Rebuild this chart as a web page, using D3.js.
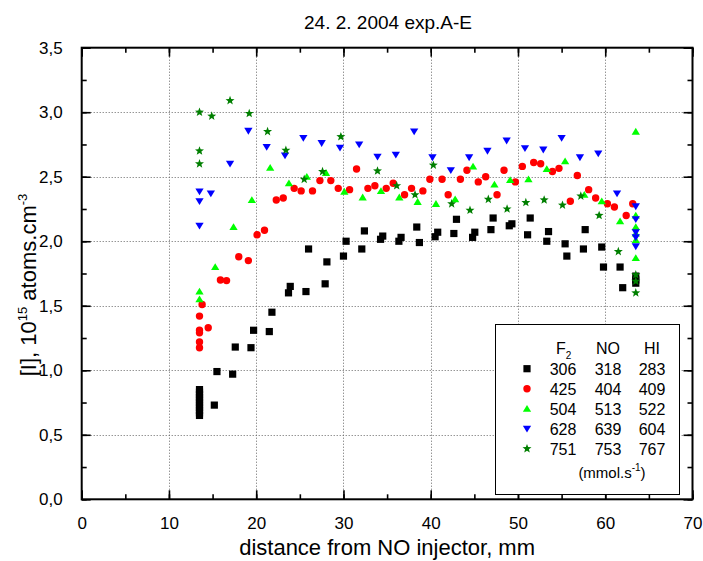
<!DOCTYPE html>
<html>
<head>
<meta charset="utf-8">
<script src="https://cdn.jsdelivr.net/npm/d3@7"></script>
<style>
  html, body { margin: 0; padding: 0; background: #fff; }
  svg text { font-family: "Liberation Sans", Arial, sans-serif; fill: #000; }
</style>
</head>
<body>
<svg id="chart" width="703" height="561"></svg>
<script>
// Iodine concentration along the reactor, five runs A-E (flows in mmol/s)
const xTicks = [0, 10, 20, 30, 40, 50, 60, 70];
const yTicks = [0, 0.5, 1.0, 1.5, 2.0, 2.5, 3.0, 3.5];

const runA = [ // F2 306, NO 318, HI 283
  [13.5,0.65],[13.5,0.67],[13.5,0.69],[13.5,0.71],[13.5,0.73],[13.5,0.75],[13.5,0.77],[13.5,0.79],[13.5,0.81],[13.5,0.83],[13.5,0.85],
  [15.2,0.73],[15.5,0.99],[17.3,0.97],[17.6,1.18],[19.4,1.175],[19.7,1.31],[21.5,1.30],[21.8,1.45],
  [23.7,1.60],[23.9,1.65],[25.7,1.61],[26.0,1.94],[27.9,1.67],[28.1,1.84],[30.0,1.885],[30.3,2.00],
  [32.1,1.94],[32.4,2.08],[34.25,2.015],[34.5,2.04],[36.35,2.00],[36.6,2.03],[38.4,2.11],[38.7,1.99],
  [40.5,2.035],[40.8,2.07],[42.65,2.06],[42.95,2.17],[44.8,2.03],[45.05,2.07],[46.9,2.09],[47.15,2.18],
  [49.0,2.12],[49.3,2.135],[51.1,2.05],[51.4,2.18],[53.3,2.00],[53.5,2.075],[55.4,1.98],[55.6,1.885],
  [57.5,1.94],[57.7,2.09],[59.6,1.955],[59.8,1.80],[61.7,1.80],[62.0,1.64],[63.5,1.675],[63.5,1.70],[63.5,1.73]
];
const runB = [ // F2 425, NO 404, HI 409
  [13.5,1.175],[13.5,1.22],[13.5,1.29],[13.5,1.31],[13.5,1.42],[13.8,1.51],[14.5,1.33],[15.9,1.70],[16.6,1.695],
  [18.0,1.88],[19.1,1.85],[20.1,2.05],[20.95,2.085],[22.3,2.32],[23.1,2.335],[24.35,2.41],[25.15,2.39],
  [26.45,2.39],[27.3,2.47],[28.55,2.47],[29.4,2.41],[30.7,2.40],[31.5,2.56],[32.8,2.41],[33.6,2.43],
  [34.9,2.41],[35.7,2.45],[37.0,2.36],[37.8,2.41],[39.1,2.39],[39.9,2.48],[41.3,2.48],[42.0,2.36],
  [43.4,2.48],[44.15,2.55],[45.45,2.46],[46.3,2.50],[47.6,2.36],[48.4,2.55],[49.7,2.46],[50.5,2.58],
  [51.8,2.61],[52.6,2.60],[53.95,2.54],[54.7,2.565],[56.0,2.31],[56.8,2.51],[58.1,2.40],[58.9,2.335],
  [60.25,2.29],[61.05,2.265],[62.4,2.20],[63.15,2.29]
];
const runC = [ // F2 504, NO 513, HI 522
  [13.5,1.61],[13.5,1.55],[15.3,1.80],[17.4,2.11],[19.5,2.32],[21.6,2.57],[23.75,2.45],[25.8,2.50],
  [28.0,2.53],[30.1,2.385],[32.2,2.34],[34.3,2.39],[36.4,2.34],[38.5,2.305],[40.6,2.29],[42.8,2.325],
  [44.85,2.58],[47.3,2.44],[49.1,2.475],[51.2,2.48],[53.3,2.56],[55.4,2.62],[57.6,2.36],[59.6,2.31],
  [61.7,2.155],[63.5,2.85],[63.5,2.20],[63.5,2.11],[63.5,2.06],[63.5,2.01],[63.5,1.87]
];
const runD = [ // F2 628, NO 639, HI 604
  [13.5,2.385],[13.5,2.31],[13.5,2.12],[14.8,2.37],[17.0,2.60],[19.1,2.855],[21.2,2.73],[23.3,2.665],
  [25.4,2.80],[27.5,2.76],[29.6,2.725],[31.8,2.75],[33.9,2.655],[36.0,2.67],[38.1,2.85],[40.2,2.65],
  [42.3,2.55],[44.4,2.65],[46.5,2.70],[48.7,2.78],[50.8,2.72],[52.9,2.71],[55.0,2.80],[57.1,2.65],
  [59.2,2.68],[61.35,2.37],[63.5,2.27],[63.5,2.17],[63.5,2.07],[63.5,2.03],[63.5,1.96]
];
const runE = [ // F2 751, NO 753, HI 767
  [13.5,3.00],[13.5,2.70],[13.5,2.60],[14.9,2.97],[17.0,3.09],[19.2,2.99],[21.3,2.85],[23.4,2.705],
  [25.5,2.48],[27.6,2.54],[29.7,2.81],[33.9,2.545],[36.1,2.43],[38.2,2.36],[40.3,2.59],[42.4,2.29],
  [44.5,2.24],[46.6,2.325],[48.75,2.25],[50.9,2.30],[53.0,2.32],[55.1,2.28],[57.2,2.35],[59.3,2.20],
  [61.5,1.92],[63.5,1.74],[63.5,1.69],[63.5,1.60]
];

const legendF2 = ["306", "425", "504", "628", "751"];
const legendNO = ["318", "404", "513", "639", "753"];
const legendHI = ["283", "409", "522", "604", "767"];

const W = 703, H = 561;
const plot = { left: 81.7, right: 692.5, top: 47.7, bottom: 499.3 };

const svg = d3.select("#chart");
const x = d3.scaleLinear().domain([0, 70]).range([plot.left, plot.right]);
const y = d3.scaleLinear().domain([0, 3.5]).range([plot.bottom, plot.top]);

// marker path generators
const shapes = {
  square: s => `M${-s},${-s}H${s}V${s}H${-s}Z`,
  circle: s => `M${-s},0A${s},${s} 0 1,0 ${s},0A${s},${s} 0 1,0 ${-s},0Z`,
  up: s => `M0,${-s*1.05}L${s*1.15},${s*0.85}L${-s*1.15},${s*0.85}Z`,
  down: s => `M0,${s*1.05}L${s*1.15},${-s*0.85}L${-s*1.15},${-s*0.85}Z`,
  star: s => {
    const R = s * 1.35, r = R * 0.42;
    let p = "";
    for (let i = 0; i < 10; i++) {
      const a = -Math.PI / 2 + i * Math.PI / 5;
      const rr = i % 2 ? r : R;
      p += (i ? "L" : "M") + (rr * Math.cos(a)).toFixed(2) + "," + (rr * Math.sin(a)).toFixed(2);
    }
    return p + "Z";
  }
};

const series = [
  { data: runA, shape: "square", size: 3.6, color: "#000000" },
  { data: runB, shape: "circle", size: 3.7, color: "#ff0000" },
  { data: runC, shape: "up", size: 3.6, color: "#00ff00" },
  { data: runD, shape: "down", size: 3.6, color: "#0000ff" },
  { data: runE, shape: "star", size: 3.5, color: "#007f00" }
];

// dotted grid at major ticks
const grid = svg.append("g").attr("stroke", "#666").attr("stroke-width", 1).attr("stroke-dasharray", "1,2");
grid.selectAll("line.gx").data(xTicks.filter(v => v > 0 && v < 70)).join("line")
  .attr("x1", d => Math.round(x(d)) + 0.5).attr("x2", d => Math.round(x(d)) + 0.5)
  .attr("y1", plot.top).attr("y2", plot.bottom);
grid.selectAll("line.gy").data(yTicks.filter(v => v > 0 && v < 3.5)).join("line")
  .attr("y1", d => Math.round(y(d)) + 0.5).attr("y2", d => Math.round(y(d)) + 0.5)
  .attr("x1", plot.left).attr("x2", plot.right);

// data markers
series.forEach(s => {
  svg.append("g").selectAll("path").data(s.data).join("path")
    .attr("d", shapes[s.shape](s.size))
    .attr("transform", d => `translate(${x(d[0])},${y(d[1])})`)
    .attr("fill", s.color);
});

// axes with inward ticks on all four sides
const fmtY = d => d3.format(".1f")(d).replace(".", ",");
const xMinor = d3.range(0, 70.01, 5);
const yMinor = d3.range(0, 3.501, 0.25);

function styleAxis(g) {
  g.selectAll(".domain").remove();
  g.selectAll(".tick line").attr("stroke", "#000").attr("stroke-width", 1.6);
  g.selectAll(".tick text").attr("font-size", 17).attr("fill", "#000")
    .style("font-family", "'Liberation Sans', Arial, sans-serif");
}

svg.append("g").attr("transform", `translate(0,${plot.bottom})`)
  .call(d3.axisBottom(x).tickValues(xMinor).tickSize(-5).tickFormat(""))
  .call(styleAxis);
svg.append("g").attr("transform", `translate(0,${plot.bottom})`)
  .call(d3.axisBottom(x).tickValues(xTicks).tickSize(-9).tickPadding(18).tickFormat(d3.format("d")))
  .call(styleAxis);
svg.append("g").attr("transform", `translate(0,${plot.top})`)
  .call(d3.axisTop(x).tickValues(xMinor).tickSize(-5).tickFormat(""))
  .call(styleAxis);
svg.append("g").attr("transform", `translate(0,${plot.top})`)
  .call(d3.axisTop(x).tickValues(xTicks).tickSize(-9).tickFormat(""))
  .call(styleAxis);
svg.append("g").attr("transform", `translate(${plot.left},0)`)
  .call(d3.axisLeft(y).tickValues(yMinor).tickSize(-5).tickFormat(""))
  .call(styleAxis);
svg.append("g").attr("transform", `translate(${plot.left},0)`)
  .call(d3.axisLeft(y).tickValues(yTicks).tickSize(-9).tickPadding(19).tickFormat(fmtY))
  .call(styleAxis);
svg.append("g").attr("transform", `translate(${plot.right},0)`)
  .call(d3.axisRight(y).tickValues(yMinor).tickSize(-5).tickFormat(""))
  .call(styleAxis);
svg.append("g").attr("transform", `translate(${plot.right},0)`)
  .call(d3.axisRight(y).tickValues(yTicks).tickSize(-9).tickFormat(""))
  .call(styleAxis);

// frame
svg.append("rect")
  .attr("x", plot.left).attr("y", plot.top)
  .attr("width", plot.right - plot.left).attr("height", plot.bottom - plot.top)
  .attr("fill", "none").attr("stroke", "#000").attr("stroke-width", 2);

// titles
svg.append("text").attr("x", 388).attr("y", 29).attr("text-anchor", "middle")
  .attr("font-size", 19).text("24. 2. 2004 exp.A-E");

svg.append("text").attr("x", (plot.left + plot.right) / 2).attr("y", 555).attr("text-anchor", "middle")
  .attr("font-size", 22).text("distance from NO injector, mm");

const yt = svg.append("text").attr("transform", "translate(36,285) rotate(-90)")
  .attr("text-anchor", "middle").attr("font-size", 22);
yt.append("tspan").text("[I], 10");
yt.append("tspan").attr("font-size", 13).attr("dy", -9).text("15");
yt.append("tspan").attr("dy", 9).text(" atoms.cm");
yt.append("tspan").attr("font-size", 13).attr("dy", -9).text("-3");

// legend
const lg = svg.append("g");
lg.append("rect").attr("x", 495.5).attr("y", 324.5).attr("width", 184).attr("height", 170)
  .attr("fill", "#fff").attr("stroke", "#000").attr("stroke-width", 1);

const colX = [563, 608, 652];
const hdr = lg.append("text").attr("x", 556).attr("y", 354).attr("font-size", 16);
hdr.append("tspan").text("F");
hdr.append("tspan").attr("font-size", 10).attr("dy", 5).text("2");
lg.append("text").attr("x", colX[1]).attr("y", 354).attr("text-anchor", "middle").attr("font-size", 16).text("NO");
lg.append("text").attr("x", colX[2]).attr("y", 354).attr("text-anchor", "middle").attr("font-size", 16).text("HI");

series.forEach((s, i) => {
  const cy = 368.7 + i * 20;
  lg.append("path").attr("d", shapes[s.shape](s.size))
    .attr("transform", `translate(527,${cy})`).attr("fill", s.color);
  [legendF2[i], legendNO[i], legendHI[i]].forEach((t, j) => {
    lg.append("text").attr("x", colX[j]).attr("y", cy + 6).attr("text-anchor", "middle")
      .attr("font-size", 16).text(t);
  });
});
const unit = lg.append("text").attr("x", 612).attr("y", 478).attr("text-anchor", "middle").attr("font-size", 15);
unit.append("tspan").text("(mmol.s");
unit.append("tspan").attr("font-size", 10).attr("dy", -7).text("-1");
unit.append("tspan").attr("dy", 7).text(")");
</script>
</body>
</html>
